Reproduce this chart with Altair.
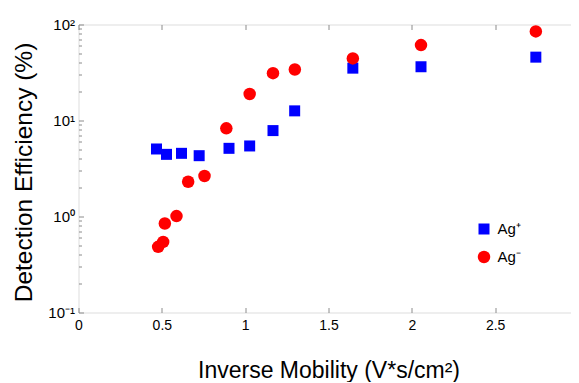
import altair as alt
import pandas as pd

# ---- data ----
SERIES = ["Ag⁺", "Ag⁻"]
AGP_X = [0.468, 0.528, 0.618, 0.724, 0.903, 1.027, 1.167, 1.297, 1.646, 2.055, 2.744]
AGP_Y = [5.05, 4.44, 4.55, 4.30, 5.13, 5.43, 7.85, 12.6, 35.1, 36.3, 45.7]
AGM_X = [0.478, 0.508, 0.518, 0.588, 0.658, 0.756, 0.887, 1.027, 1.167, 1.298, 1.646, 2.055, 2.744]
AGM_Y = [0.483, 0.544, 0.845, 1.01, 2.30, 2.64, 8.29, 18.9, 31.1, 34.0, 44.3, 61.0, 84.7]

X_TICKS = [0, 0.5, 1, 1.5, 2, 2.5, 3]
X_TICK_LABELS = ["0", "0.5", "1", "1.5", "2", "2.5", "3"]
Y_TICKS = [0.1, 1, 10, 100]
Y_TICK_LABELS = ["10⁻¹", "10⁰", "10¹", "10²"]
Y_MINOR = [m * d for d in [0.1, 1, 10] for m in range(2, 10)]

COLORS = ["#0000FF", "#FF0000"]
SHAPES = ["square", "circle"]
SIZES = [121, 156]

W, H = 500, 288
GRAY = "#8c8c8c"
FONT = "Liberation Sans"

rows = [{"x": a, "y": b, "s": SERIES[0]} for a, b in zip(AGP_X, AGP_Y)]
rows += [{"x": a, "y": b, "s": SERIES[1]} for a, b in zip(AGM_X, AGM_Y)]
df = pd.DataFrame(rows)


def label_expr(vals, labs):
    expr = "''"
    for v, l in reversed(list(zip(vals, labs))):
        expr = f"datum.value == {v} ? '{l}' : ({expr})"
    return expr


xs = alt.Scale(domain=[0, 3], nice=False, zero=False)
ys = alt.Scale(type="log", domain=[0.1, 100], nice=False)

ax_main = alt.Axis(orient="bottom", values=X_TICKS, labelExpr=label_expr(X_TICKS, X_TICK_LABELS),
                   ticks=False, domain=False, grid=False, labelFlush=False, labelOverlap=False,
                   labelFontSize=14, labelPadding=6, labelColor="black",
                   title="Inverse Mobility (V*s/cm²)", titleFontSize=23, titleFontWeight="normal",
                   titleColor="black", titleY=64.5, titleBaseline="alphabetic")
ay_main = alt.Axis(orient="left", values=Y_TICKS, labelExpr=label_expr(Y_TICKS, Y_TICK_LABELS),
                   ticks=False, domain=False, grid=False, labelFlush=False, labelOverlap=False,
                   labelFontSize=15, labelPadding=4, labelColor="black",
                   title="Detection Efficiency (%)", titleFontSize=24.5, titleFontWeight="normal",
                   titleColor="black", titleX=-46.8, titleY=147.5, titleBaseline="alphabetic",
                   titleAngle=-90, titleAlign="center")


def tick_axis(orient, offset, values, size):
    return alt.Axis(orient=orient, offset=offset, values=values, labels=False, domain=False,
                    grid=False, ticks=True, tickSize=size, tickColor=GRAY, tickWidth=1, title=None)


leg = alt.Legend(orient="none", legendX=398, legendY=197, title=None, labelFontSize=15,
                 labelOffset=6, rowPadding=12, padding=0, labelColor="black", labelFont=FONT)

base = alt.Chart(df)

points = base.mark_point(filled=True, opacity=1, strokeWidth=0).encode(
    x=alt.X("x:Q", scale=xs, axis=ax_main),
    y=alt.Y("y:Q", scale=ys, axis=ay_main),
    color=alt.Color("s:N", scale=alt.Scale(domain=SERIES, range=COLORS), legend=leg),
    shape=alt.Shape("s:N", scale=alt.Scale(domain=SERIES, range=SHAPES), legend=leg),
    size=alt.Size("s:N", scale=alt.Scale(domain=SERIES, range=SIZES), legend=leg),
)

ticks1 = base.mark_point(opacity=0).encode(
    x=alt.X("x:Q", scale=xs, axis=tick_axis("top", -H, X_TICKS, 5)),
    y=alt.Y("y:Q", scale=ys, axis=tick_axis("right", -W, Y_TICKS, 5)),
)
ticks2 = base.mark_point(opacity=0).encode(
    x=alt.X("x:Q", scale=xs, axis=tick_axis("bottom", -H, X_TICKS, 5)),
    y=alt.Y("y:Q", scale=ys, axis=tick_axis("left", -W, Y_TICKS, 5)),
)
ticks3 = base.mark_point(opacity=0).encode(
    x=alt.X("x:Q", scale=xs, axis=None),
    y=alt.Y("y:Q", scale=ys, axis=tick_axis("right", -W, Y_MINOR, 3)),
)
ticks4 = base.mark_point(opacity=0).encode(
    x=alt.X("x:Q", scale=xs, axis=None),
    y=alt.Y("y:Q", scale=ys, axis=tick_axis("left", -W, Y_MINOR, 3)),
)

chart = alt.layer(points, ticks1, ticks2, ticks3, ticks4).resolve_scale(
    x="shared", y="shared"
).resolve_axis(
    x="independent", y="independent"
).properties(
    width=W, height=H,
    autosize=alt.AutoSizeParams(type="none"),
    padding={"left": 70.5, "top": 16.5, "right": -7.5, "bottom": 69},
).configure_view(
    stroke=GRAY, strokeWidth=1
).configure(font=FONT)

chart.save("out.html", embed_options={"renderer": "svg", "actions": False})
